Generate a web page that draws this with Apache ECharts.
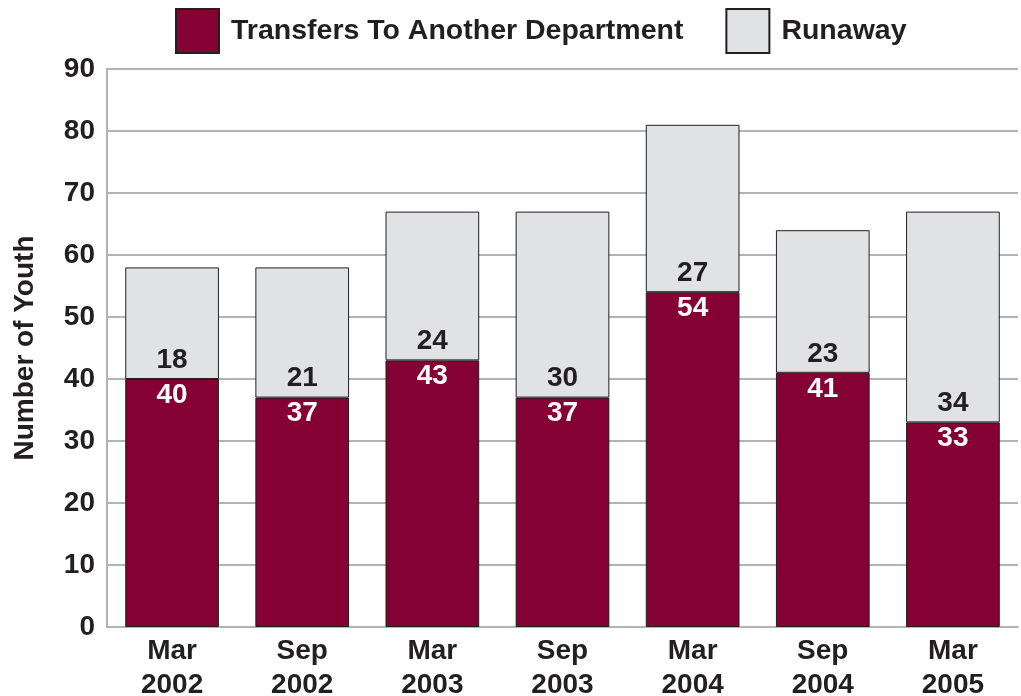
<!DOCTYPE html>
<html><head><meta charset="utf-8">
<script src="https://cdn.jsdelivr.net/npm/echarts@6/dist/echarts.min.js"></script>
<style>html,body{margin:0;padding:0;background:#fff}#c{width:1021px;height:696px}</style>
</head><body><div id="c"></div>
<script>
const categories = ['Mar\n2002','Sep\n2002','Mar\n2003','Sep\n2003','Mar\n2004','Sep\n2004','Mar\n2005'];
const transfers = [40,37,43,37,54,41,33];
const runaway = [18,21,24,30,27,23,34];
const yTicks = {min:0, max:90, interval:10};

const FONT = '"Liberation Sans", Arial, sans-serif';
const chart = echarts.init(document.getElementById('c'));
chart.setOption({
  animation:false,
  textStyle:{fontFamily:FONT},
  legend:{
    top:3, left:170, itemWidth:43, itemHeight:44, itemGap:42,
    icon:'rect',
    textStyle:{fontSize:28.5, fontWeight:'bold', color:'#231f20', fontFamily:FONT, padding:[0,0,0,7]},
    data:['Transfers To Another Department','Runaway']
  },
  grid:{left:107, right:3, top:69, bottom:69, containLabel:false, outerBoundsMode:'none'},
  xAxis:{
    type:'category', data:categories,
    axisLine:{show:true, lineStyle:{color:'#b3b3b3', width:2}},
    axisTick:{show:false},
    axisLabel:{fontSize:28, fontWeight:'bold', color:'#231f20', lineHeight:34, margin:7, fontFamily:FONT}
  },
  yAxis:{
    type:'value', min:yTicks.min, max:yTicks.max, interval:yTicks.interval,
    name:'Number of Youth', nameLocation:'middle', nameGap:68,
    nameTextStyle:{fontSize:28, fontWeight:'bold', color:'#231f20', fontFamily:FONT},
    axisLine:{show:true, lineStyle:{color:'#b3b3b3', width:2}},
    axisTick:{show:false},
    splitLine:{lineStyle:{color:'#b3b3b3', width:2}},
    axisLabel:{fontSize:28, fontWeight:'bold', color:'#231f20', margin:12, fontFamily:FONT}
  },
  series:[
    {name:'Transfers To Another Department', type:'bar', stack:'a', data:transfers,
     barCategoryGap:'28%',
     itemStyle:{color:'#850033', borderColor:'#231f20', borderWidth:1},
     label:{show:true, position:'insideTop', distance:2, color:'#ffffff', fontSize:28, fontWeight:'bold', fontFamily:FONT}},
    {name:'Runaway', type:'bar', stack:'a', data:runaway,
     itemStyle:{color:'#e1e2e4', borderColor:'#231f20', borderWidth:1},
     label:{show:true, position:'insideBottom', distance:5, color:'#231f20', fontSize:28, fontWeight:'bold', fontFamily:FONT}}
  ]
});
</script></body></html>
